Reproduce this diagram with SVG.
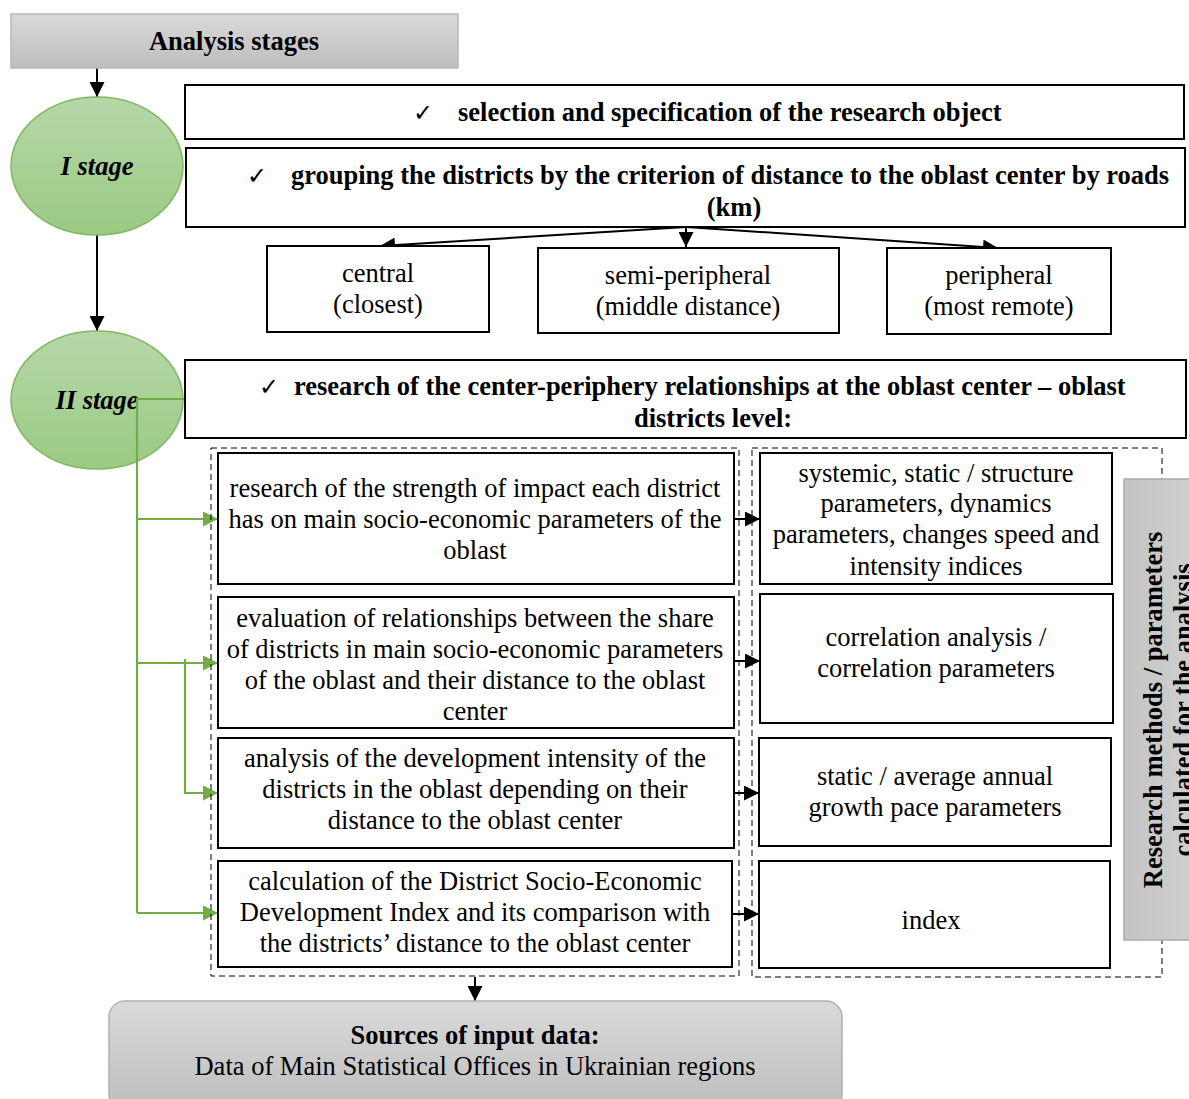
<svg xmlns="http://www.w3.org/2000/svg" width="1189" height="1099" viewBox="0 0 1189 1099">
<defs>
<linearGradient id="gGray" x1="0" y1="0" x2="0" y2="1"><stop offset="0" stop-color="#dadada"/><stop offset="1" stop-color="#bdbdbd"/></linearGradient>
<linearGradient id="gGreen" x1="0" y1="0" x2="0" y2="1"><stop offset="0" stop-color="#b6d7a8"/><stop offset="1" stop-color="#9bca84"/></linearGradient>
<linearGradient id="gSide" x1="0" y1="0" x2="1" y2="0"><stop offset="0" stop-color="#c4c4c4"/><stop offset="1" stop-color="#cfcfcf"/></linearGradient>
<marker id="abL" viewBox="0 0 10 10" refX="10" refY="5" markerWidth="15" markerHeight="15" markerUnits="userSpaceOnUse" orient="auto"><path d="M0,0 L10,5 L0,10 z" fill="#000"/></marker>
<marker id="ag" viewBox="0 0 10 10" refX="10" refY="5" markerWidth="15" markerHeight="15" markerUnits="userSpaceOnUse" orient="auto"><path d="M0,0 L10,5 L0,10 z" fill="#70ad47"/></marker>
</defs>
<style>
.box{fill:#fff;stroke:#000;stroke-width:2}
.dash{fill:none;stroke:#000;stroke-width:1;stroke-dasharray:6 4}
.t{font-family:"Liberation Serif","Times New Roman",serif;font-size:26.5px;fill:#000;text-anchor:middle}
.b{font-family:"Liberation Serif","Times New Roman",serif;font-size:26.5px;font-weight:bold;fill:#000}
.ck{font-weight:normal;font-size:24px}
.st{font-family:"Liberation Serif","Times New Roman",serif;font-size:26.5px;font-weight:bold;font-style:italic;fill:#000;text-anchor:middle}
.k{stroke:#000;stroke-width:2;fill:none}
.g{stroke:#70ad47;stroke-width:2.2;fill:none}
</style>

<g id="connectors">
<line class="k" x1="97" y1="68" x2="97" y2="97" marker-end="url(#abL)"/>
<line class="k" x1="97" y1="235" x2="97" y2="331" marker-end="url(#abL)"/>
<line class="k" x1="686" y1="227" x2="380" y2="246" marker-end="url(#abL)"/>
<line class="k" x1="686" y1="227" x2="686" y2="247" marker-end="url(#abL)"/>
<line class="k" x1="686" y1="227" x2="998" y2="248" marker-end="url(#abL)"/>
<line class="k" x1="734" y1="519" x2="760" y2="519" marker-end="url(#abL)"/>
<line class="k" x1="734" y1="661" x2="760" y2="661" marker-end="url(#abL)"/>
<line class="k" x1="734" y1="793" x2="759" y2="793" marker-end="url(#abL)"/>
<line class="k" x1="732" y1="914" x2="759" y2="914" marker-end="url(#abL)"/>
<line class="k" x1="475" y1="977" x2="475" y2="1001" marker-end="url(#abL)"/>
</g>

<g id="header">
<rect x="11" y="14" width="447" height="54" fill="url(#gGray)" stroke="#b8b8b8" stroke-width="1.5"/>
<text class="b" x="234" y="50" text-anchor="middle">Analysis stages</text>
</g>

<g id="stage1">
<ellipse cx="97" cy="166" rx="86" ry="69" fill="url(#gGreen)" stroke="#7fb860" stroke-width="1.5"/>
<text class="st" x="97" y="175">I stage</text>
</g>

<g id="stage2">
<ellipse cx="97" cy="400" rx="86" ry="69" fill="url(#gGreen)" stroke="#7fb860" stroke-width="1.5"/>
<text class="st" x="97" y="409">II stage</text>
</g>

<g id="green-connectors">
<polyline class="g" points="185,399 137,399 137,913"/>
<line class="g" x1="137" y1="519" x2="218" y2="519" marker-end="url(#ag)"/>
<line class="g" x1="137" y1="663" x2="218" y2="663" marker-end="url(#ag)"/>
<line class="g" x1="137" y1="913" x2="218" y2="913" marker-end="url(#ag)"/>
<polyline class="g" points="185,659 185,793 218,793" marker-end="url(#ag)"/>
</g>

<g id="selection">
<rect class="box" x="185" y="85" width="999" height="54"/>
<text class="b" x="413" y="121"><tspan class="ck">✓</tspan><tspan x="458">selection and specification of the research object</tspan></text>
</g>

<g id="grouping">
<rect class="box" x="186" y="148" width="999" height="79"/>
<text class="b" x="247" y="184"><tspan class="ck">✓</tspan><tspan x="291">grouping the districts by the criterion of distance to the oblast center by roads</tspan></text>
<text class="b" x="734" y="216" text-anchor="middle">(km)</text>
</g>

<g id="central">
<rect class="box" x="267" y="246" width="222" height="86"/>
<text class="t" x="378" y="282">central</text>
<text class="t" x="378" y="313">(closest)</text>
</g>

<g id="semi">
<rect class="box" x="538" y="248" width="301" height="85"/>
<text class="t" x="688" y="284">semi-peripheral</text>
<text class="t" x="688" y="315">(middle distance)</text>
</g>

<g id="peripheral">
<rect class="box" x="887" y="248" width="224" height="86"/>
<text class="t" x="999" y="284">peripheral</text>
<text class="t" x="999" y="315">(most remote)</text>
</g>

<g id="research">
<rect class="box" x="185" y="360" width="1001" height="78"/>
<text class="b" x="259" y="395"><tspan class="ck">✓</tspan><tspan x="294">research of the center-periphery relationships at the oblast center – oblast</tspan></text>
<text class="b" x="713" y="427" text-anchor="middle">districts level:</text>
</g>

<g id="left-group">
<rect class="dash" x="211" y="448" width="528" height="528"/>
</g>
<g id="right-group">
<rect class="dash" x="752" y="448" width="410" height="529"/>
</g>

<g id="L1">
<rect class="box" x="218" y="453" width="516" height="131"/>
<text class="t" x="475" y="497">research of the strength of impact each district</text>
<text class="t" x="475" y="528">has on main socio-economic parameters of the</text>
<text class="t" x="475" y="559">oblast</text>
</g>
<g id="L2">
<rect class="box" x="218" y="597" width="516" height="131"/>
<text class="t" x="475" y="627">evaluation of relationships between the share</text>
<text class="t" x="475" y="658">of districts in main socio-economic parameters</text>
<text class="t" x="475" y="689">of the oblast and their distance to the oblast</text>
<text class="t" x="475" y="720">center</text>
</g>
<g id="L3">
<rect class="box" x="218" y="738" width="516" height="110"/>
<text class="t" x="475" y="767">analysis of the development intensity of the</text>
<text class="t" x="475" y="798">districts in the oblast depending on their</text>
<text class="t" x="475" y="829">distance to the oblast center</text>
</g>
<g id="L4">
<rect class="box" x="218" y="861" width="514" height="106"/>
<text class="t" x="475" y="890">calculation of the District Socio-Economic</text>
<text class="t" x="475" y="921">Development Index and its comparison with</text>
<text class="t" x="475" y="952">the districts’ distance to the oblast center</text>
</g>

<g id="R1">
<rect class="box" x="760" y="453" width="352" height="131"/>
<text class="t" x="936" y="482">systemic, static / structure</text>
<text class="t" x="936" y="512">parameters, dynamics</text>
<text class="t" x="936" y="543">parameters, changes speed and</text>
<text class="t" x="936" y="575">intensity indices</text>
</g>
<g id="R2">
<rect class="box" x="760" y="594" width="353" height="129"/>
<text class="t" x="936" y="646">correlation analysis /</text>
<text class="t" x="936" y="677">correlation parameters</text>
</g>
<g id="R3">
<rect class="box" x="759" y="738" width="352" height="108"/>
<text class="t" x="935" y="785">static / average annual</text>
<text class="t" x="935" y="816">growth pace parameters</text>
</g>
<g id="R4">
<rect class="box" x="759" y="861" width="351" height="107"/>
<text class="t" x="931" y="929">index</text>
</g>

<g id="side-label">
<rect x="1124" y="479" width="70" height="461" fill="url(#gSide)" stroke="#aaaaaa" stroke-width="1.5"/>
<text class="b" transform="translate(1162,710) rotate(-90)" text-anchor="middle">Research methods / parameters</text>
<text class="b" transform="translate(1192,710) rotate(-90)" text-anchor="middle">calculated for the analysis</text>
</g>

<g id="sources">
<rect x="109" y="1001" width="733" height="110" rx="16" fill="url(#gGray)" stroke="#b0b0b0" stroke-width="1.5"/>
<text class="b" x="475" y="1044" text-anchor="middle">Sources of input data:</text>
<text class="t" x="475" y="1075">Data of Main Statistical Offices in Ukrainian regions</text>
</g>
</svg>
